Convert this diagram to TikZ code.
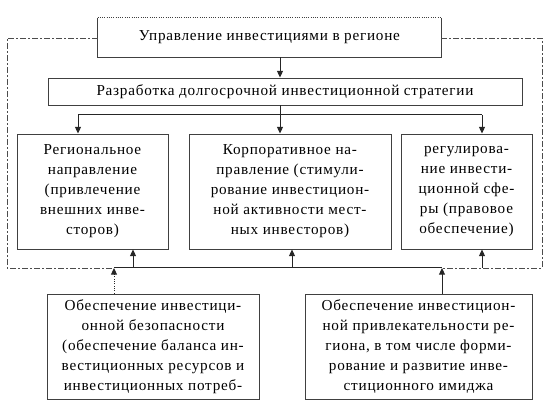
\documentclass[tikz,border=0pt]{standalone}
\usepackage{fontspec}
\setmainfont{Liberation Serif}[LetterSpace=5]
\usetikzlibrary{arrows.meta}
\tikzset{
  box/.style={draw=black!75, line width=0.7pt, rectangle, inner sep=0pt, align=center,
    font=\fontsize{11.4}{15}\selectfont},
  frame/.style={draw=black!70, line width=0.7pt, dash pattern=on 4pt off 2pt on 1pt off 2pt},
  conn/.style={draw=black!85, line width=0.75pt},
  arr/.style={conn, -{Triangle[length=5pt,width=4.5pt]}},
}
\begin{document}
\begin{tikzpicture}[x=0.75pt,y=-0.75pt]
\useasboundingbox (0,0) rectangle (558,410);
% boxes
\node[box, draw=none, minimum width=257.25pt, minimum height=29.25pt] (top) at (269.5,37.5) {Управление инвестициями в регионе};
\draw[conn, draw=black!75, line width=0.7pt] (top.north west) -- (top.south west) -- (top.south east) -- (top.north east);
\draw[black!75, line width=0.7pt, densely dotted] (top.north west) -- (top.north east);
\node[box, minimum width=355.5pt, minimum height=20.25pt] (strat) at (285,91.5) {Разработка долгосрочной инвестиционной стратегии};
\node[box, minimum width=113.25pt, minimum height=86.25pt] (L) at (92.5,191.5) {Региональное\\направление\\(привлечение\\внешних инве-\\сторов)};
\node[box, minimum width=151.5pt, minimum height=86.25pt] (M) at (290,191.5) {Корпоративное на-\\правление (стимули-\\рование инвестицион-\\ной активности мест-\\ных инвесторов)};
\node[box, minimum width=98.25pt, minimum height=86.25pt] (R) at (466.5,191.5) {регулирова-\\ние инвести-\\ционной сфе-\\ры (правовое\\обеспечение)};
\node[box, minimum width=159pt, minimum height=78.75pt] (BL) at (153,346.5) {Обеспечение инвестици-\\онной безопасности\\(обеспечение баланса ин-\\вестиционных ресурсов и\\инвестиционных потреб-};
\node[box, minimum width=170.25pt, minimum height=78.75pt] (BR) at (418.5,346.5) {Обеспечение инвестицион-\\ной привлекательности ре-\\гиона, в том числе форми-\\рование и развитие инве-\\стиционного имиджа};
% coordinates
\coordinate (fTL) at (7,38);
\coordinate (fTR) at (542,38);
\coordinate (fBL) at (7,268);
\coordinate (fBR) at (542,268);
\coordinate (jL) at (114,268);
\coordinate (jR) at (442,268);
\coordinate (bL) at (78,115);
\coordinate (bM) at (280,115);
\coordinate (bR) at (482,115);
% frame
\draw[frame] (top.west |- fTL) -- (fTL) -- (fBL) -- (jL);
\draw[frame] (top.east |- fTR) -- (fTR) -- (fBR) -- (jR);
\draw[conn] (jL) -- (jR);
% top connectors
\draw[arr] (top.south -| bM) -- (strat.north -| bM);
\draw[conn] (strat.south -| bM) -- (bM);
\draw[conn] (bL) -- (bR);
\draw[arr] (bL) -- (L.north -| bL);
\draw[arr] (bM) -- (M.north -| bM);
\draw[arr] (bR) -- (R.north -| bR);
% bottom connectors
\draw[arr] (133,268) -- (L.south -| 133,0);
\draw[arr] (292,268) -- (M.south -| 292,0);
\draw[arr] (482,268) -- (R.south -| 482,0);
\draw[arr, densely dotted] (BL.north -| jL) -- (jL);
\draw[arr] (BR.north -| jR) -- (jR);
\end{tikzpicture}
\end{document}
